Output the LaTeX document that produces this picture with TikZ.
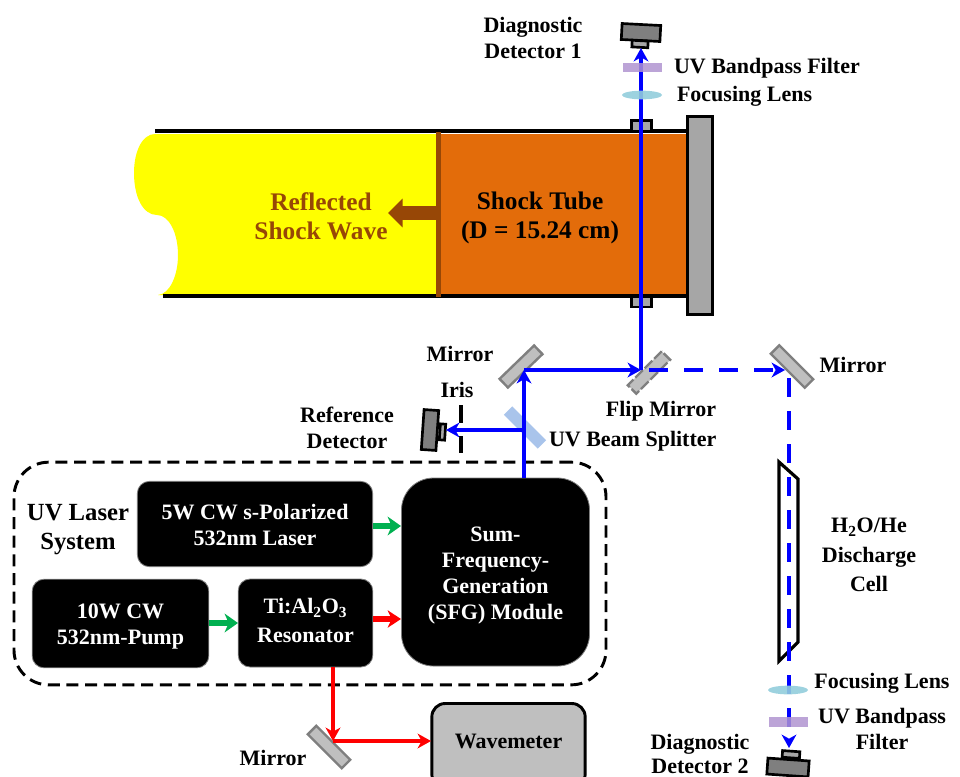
\documentclass[tikz,border=0pt]{standalone}
\usepackage{fontspec}
\setmainfont{Liberation Serif}
\usetikzlibrary{arrows.meta,shapes.geometric}
\definecolor{tubeyellow}{HTML}{FFFF00}
\definecolor{tubeorange}{HTML}{E36C0A}
\definecolor{shockbrown}{HTML}{974706}
\definecolor{mirrorgray}{HTML}{BFBFBF}
\definecolor{mirroredge}{HTML}{7F7F7F}
\definecolor{platefill}{HTML}{A6A6A6}
\definecolor{lensblue}{HTML}{92CDDC}
\definecolor{filterpurple}{HTML}{B094D0}
\definecolor{splitblue}{HTML}{A9C4EB}
\definecolor{laserblue}{HTML}{0000FF}
\definecolor{lasergreen}{HTML}{00B050}
\definecolor{laserred}{HTML}{FF0000}
\tikzset{
  every node/.style={font=\bfseries\fontsize{16.5}{19.5}\selectfont,align=center,inner sep=0pt,outer sep=0pt},
  biglabel/.style={font=\bfseries\fontsize{19}{22}\selectfont},
  blackbox/.style={draw=mirroredge,line width=.6pt,fill=black,text=white,rounded corners=9pt},
  mirrorbox/.style={draw=mirroredge,fill=mirrorgray,line width=1.8pt,minimum width=36pt,minimum height=9pt},
  flipbox/.style={mirrorbox,dash pattern=on 8pt off 2pt},
  splitbox/.style={fill=splitblue,minimum width=36pt,minimum height=9pt},
  detbig/.style={draw=black,fill=mirroredge,line width=2pt},
  detsmall/.style={draw=black,fill=platefill,line width=2pt},
  portbox/.style={draw=black,fill=platefill,line width=2pt,minimum width=15pt,minimum height=8pt},
  lensshape/.style={fill=lensblue,opacity=.9,ellipse,minimum width=30pt,minimum height=6.5pt},
  filtershape/.style={fill=filterpurple,opacity=.85,minimum width=29pt,minimum height=7pt},
  beamtip/.style={-{Stealth[length=10pt,width=11pt,inset=3pt]}},
  blueline/.style={draw=laserblue,line width=3.5pt},
  bluebeam/.style={blueline,beamtip},
  thickbeam/.style={line width=4.6pt,-{Stealth[length=10pt,width=14pt,inset=3pt]}},
  redbeam/.style={draw=laserred,line width=3.5pt,beamtip},
  redthick/.style={draw=laserred,line width=4pt,-{Stealth[length=10pt,width=13pt,inset=3pt]}},
}
\begin{document}
\begin{tikzpicture}[x=0.75pt,y=-0.75pt]
\clip (0,0) rectangle (960,776);
% shock tube
\fill[tubeyellow] (155,134) .. controls (143,134) and (134,150) .. (134,173)
  .. controls (134,197) and (143,215) .. (157,215)
  .. controls (169,215) and (178,233) .. (178,255)
  .. controls (178,275) and (170,294) .. (158,295)
  -- (438,295) -- (438,134) -- cycle;
\fill[tubeorange] (438,134) rectangle (688,295);
\coordinate (topL) at (155,131); \coordinate (topR) at (688,131);
\coordinate (botL) at (163,296); \coordinate (botR) at (688,296);
\draw[line width=3pt] (topL) -- (topR);
\draw[line width=3pt] (botL) -- (botR);
\fill[shockbrown] (436,132) rectangle (441,297);
\node[portbox] (porttop) at (641.5,125.5) {};
\node[portbox] (portbot) at (641.5,301.5) {};
\node[draw=black,fill=platefill,line width=2.2pt,minimum width=18.5pt,minimum height=149pt] (plate) at (700,215.5) {};
\coordinate (shockfront) at (436,213); \coordinate (shocktip) at (388,213);
\draw[shockbrown,line width=10pt,-{Stealth[length=11pt,width=21pt,inset=0pt]}] (shockfront) -- (shocktip);
\node[text=shockbrown,biglabel] (reflected) at (321,216) {Reflected\\Shock Wave};
\node[biglabel] (tubelabel) at (540,218) {Shock Tube\\(D = 15.24 cm)};
% optics, below the beams
\node[splitbox,rotate=-45] (splitter) at (525,427.5) {};
\node[mirrorbox,rotate=44] (mirA) at (521,366.5) {};
\node[flipbox,rotate=45] (flip) at (649,372.5) {};
\node[mirrorbox,rotate=-45] (mirB) at (792,366.5) {};
\node[mirrorbox,rotate=-45] (mirC) at (329,747) {};
% discharge cell
\draw[line width=2.4pt,fill=white] (779,462) -- (798,479) -- (798,642) -- (779,661) -- cycle;
% dashed enclosure
\node[draw=black,line width=2.2pt,dash pattern=on 9pt off 5pt,rounded corners=26pt,minimum width=444pt,minimum height=167pt] (system) at (310,573.5) {};
% detectors
\node[detbig,rotate=-3,minimum width=29pt,minimum height=12pt] (detA) at (641,32.5) {};
\node[detsmall,rotate=-3,minimum width=12pt,minimum height=5pt] (detAs) at (640,44) {};
\node[detbig,rotate=-4,minimum width=11pt,minimum height=30pt] (detR) at (430,430) {};
\node[detsmall,rotate=-4,minimum width=4pt,minimum height=12pt] (detRs) at (442.5,432) {};
\node[detbig,rotate=-4,minimum width=31pt,minimum height=12pt] (detB) at (788,767.5) {};
\node[detsmall,rotate=-4,minimum width=13pt,minimum height=5pt] (detBs) at (791,754.5) {};
% iris
\coordinate (irisAa) at (461,405); \coordinate (irisAb) at (461,423);
\coordinate (irisBa) at (461,436); \coordinate (irisBb) at (461,453);
\draw[line width=2.6pt] (irisAa) -- (irisAb);
\draw[line width=2.6pt] (irisBa) -- (irisBb);
% black boxes
\node[blackbox,minimum width=176.5pt,minimum height=64pt] (laser) at (255,524) {};
\node[text=white] (laserT) at (255,524.5) {5W CW s-Polarized\\532nm Laser};
\node[blackbox,minimum width=132.5pt,minimum height=66.5pt] (pump) at (120.5,623.5) {};
\node[text=white] (pumpT) at (120.5,627) {10W CW\\532nm-Pump};
\node[blackbox,minimum width=101pt,minimum height=66pt] (reso) at (305.5,623) {};
\node[text=white] (resoT) at (305.5,620.5) {Ti:Al\textsubscript{2}O\textsubscript{3}\\[2pt]Resonator};
\node[blackbox,rounded corners=24pt,minimum width=141pt,minimum height=141pt] (sfg) at (495.5,572) {};
\node[text=white] (sfgT) at (495.5,576) {Sum-\\Frequency-\\Generation\\(SFG) Module};
\node[draw=black,fill=mirrorgray,line width=2.2pt,rounded corners=10pt,minimum width=115pt,minimum height=63pt] (wave) at (508.5,745.5) {};
\node (wavetext) at (508.5,741) {Wavemeter};
% beams
\coordinate (sfgout) at (524,478);
\coordinate (turnA) at (524,370);
\coordinate (turnF) at (641,370);
\coordinate (splitpt) at (524,430);
\coordinate (refin) at (446,430);
\coordinate (dashstart) at (649,370);
\coordinate (turnB) at (785,370);
\coordinate (turnBb) at (789,370);
\coordinate (det2in) at (789,748);
\coordinate (det1in) at (641,48);
\draw[bluebeam] (sfgout) -- (turnA);
\draw[bluebeam] (turnA) -- (turnF);
\draw[bluebeam] (turnF) -- (det1in);
\draw[bluebeam] (splitpt) -- (refin);
\draw[bluebeam,dash pattern=on 14.25pt off 12pt] (dashstart) -- (turnB);
\draw[bluebeam,dash pattern=on 14.25pt off 10.5pt,dash phase=18.75pt] (turnBb) -- (det2in);
\coordinate (rdown) at (333,741);
\coordinate (rright) at (431,741);
\coordinate (glaserA) at (373,526); \coordinate (glaserB) at (401,526);
\coordinate (gpumpA) at (209,623); \coordinate (gpumpB) at (238,623);
\coordinate (rresA) at (373,619); \coordinate (rresB) at (401,619);
\coordinate (rresC) at (333,667);
\draw[redbeam] (rresC) -- (rdown);
\draw[redbeam] (rdown) -- (rright);
\draw[draw=lasergreen,thickbeam] (glaserA) -- (glaserB);
\draw[draw=lasergreen,thickbeam] (gpumpA) -- (gpumpB);
\draw[redthick] (rresA) -- (rresB);
% lenses and filters, over the beams
\node[filtershape] (filtA) at (642.5,67.5) {};
\node[lensshape] (lensA) at (642,95) {};
\node[lensshape] (lensB) at (788,690) {};
\node[filtershape] (filtB) at (788.5,722) {};
% labels
\node (lbDetA) at (533,37.5) {Diagnostic\\Detector 1};
\node[anchor=west] (lbFiltA) at (674,68) {UV Bandpass Filter};
\node[anchor=west] (lbLensA) at (677,96) {Focusing Lens};
\node (lbMirA) at (460,354) {Mirror};
\node (lbIris) at (457,390) {Iris};
\node (lbRef) at (347,427.5) {Reference\\Detector};
\node (lbFlip) at (661,411) {Flip Mirror};
\node[anchor=west] (lbSplit) at (549,441) {UV Beam Splitter};
\node (lbMirB) at (853,365) {Mirror};
\node[font=\bfseries\fontsize{16.5}{22}\selectfont] (lbCell) at (869,555) {H\textsubscript{2}O/He\\Discharge\\Cell};
\node (lbLensB) at (882,683) {Focusing Lens};
\node (lbFiltB) at (882,728.5) {UV Bandpass\\Filter};
\node[font=\bfseries\fontsize{16.5}{18}\selectfont] (lbDetB) at (700,754) {Diagnostic\\Detector 2};
\node (lbMirC) at (273,758) {Mirror};
\node[font=\bfseries\fontsize{18.5}{21.75}\selectfont] (lbSystem) at (78,529.5) {UV Laser\\System};
\end{tikzpicture}
\end{document}
